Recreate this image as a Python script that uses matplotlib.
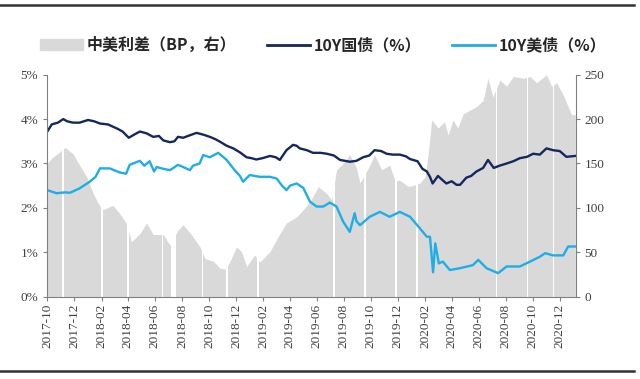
import pandas as pd
import matplotlib
matplotlib.use("Agg")
import matplotlib.pyplot as plt
import matplotlib.dates as mdates
from matplotlib.lines import Line2D
from matplotlib.patches import Patch

# 10Y China government bond yield (%)
cn_dates = ["2017-10-01", "2017-10-11", "2017-10-25", "2017-11-06", "2017-11-15", "2017-11-28",
            "2017-12-13", "2018-01-01", "2018-01-15", "2018-01-28", "2018-02-15", "2018-03-09",
            "2018-03-20", "2018-04-03", "2018-04-15", "2018-04-28", "2018-05-13", "2018-05-28",
            "2018-06-10", "2018-06-20", "2018-07-05", "2018-07-15", "2018-07-23", "2018-08-04",
            "2018-08-20", "2018-09-03", "2018-09-18", "2018-10-03", "2018-10-15", "2018-10-26",
            "2018-11-10", "2018-11-25", "2018-12-10", "2018-12-25", "2019-01-05", "2019-01-16",
            "2019-01-30", "2019-02-16", "2019-03-01", "2019-03-10", "2019-03-25", "2019-04-09",
            "2019-04-17", "2019-04-24", "2019-05-10", "2019-05-24", "2019-06-10", "2019-06-24",
            "2019-07-10", "2019-07-24", "2019-08-15", "2019-08-30", "2019-09-14", "2019-09-28",
            "2019-10-10", "2019-10-25", "2019-11-06", "2019-11-20", "2019-12-06", "2019-12-20",
            "2019-12-29", "2020-01-15", "2020-01-26", "2020-02-05", "2020-02-12", "2020-02-18",
            "2020-03-01", "2020-03-12", "2020-03-20", "2020-04-01", "2020-04-12", "2020-04-20",
            "2020-05-04", "2020-05-15", "2020-05-27", "2020-06-11", "2020-06-22", "2020-07-05",
            "2020-07-18", "2020-08-03", "2020-08-18", "2020-09-02", "2020-09-18", "2020-10-02",
            "2020-10-17", "2020-11-01", "2020-11-16", "2020-12-01", "2020-12-16", "2021-01-05"]
cn_yield = [3.72, 3.88, 3.92, 4.00, 3.95, 3.92,
            3.92, 3.98, 3.95, 3.90, 3.88, 3.78,
            3.72, 3.58, 3.65, 3.72, 3.68, 3.60,
            3.62, 3.52, 3.48, 3.50, 3.60, 3.58,
            3.64, 3.69, 3.65, 3.60, 3.55, 3.49,
            3.40, 3.34, 3.25, 3.14, 3.12, 3.09,
            3.12, 3.17, 3.14, 3.08, 3.30, 3.42,
            3.40, 3.34, 3.30, 3.24, 3.24, 3.22,
            3.18, 3.08, 3.04, 3.06, 3.14, 3.18,
            3.30, 3.28, 3.22, 3.20, 3.20, 3.16,
            3.10, 3.05, 2.88, 2.82, 2.70, 2.55,
            2.72, 2.62, 2.55, 2.60, 2.52, 2.52,
            2.68, 2.72, 2.82, 2.90, 3.08, 2.90,
            2.95, 3.00, 3.05, 3.12, 3.15, 3.22,
            3.20, 3.34, 3.30, 3.28, 3.15, 3.17]

# 10Y US Treasury yield (%)
us_dates = ["2017-10-01", "2017-10-22", "2017-11-10", "2017-11-21", "2017-12-13", "2018-01-05",
            "2018-01-18", "2018-01-28", "2018-02-19", "2018-03-13", "2018-03-28", "2018-04-05",
            "2018-04-28", "2018-05-08", "2018-05-20", "2018-05-30", "2018-06-05", "2018-06-20",
            "2018-07-05", "2018-07-23", "2018-08-04", "2018-08-19", "2018-08-26", "2018-09-10",
            "2018-09-18", "2018-10-03", "2018-10-22", "2018-11-10", "2018-11-28", "2018-12-10",
            "2018-12-17", "2019-01-01", "2019-01-24", "2019-02-16", "2019-03-03", "2019-03-15",
            "2019-03-25", "2019-04-02", "2019-04-17", "2019-05-02", "2019-05-17", "2019-06-01",
            "2019-06-16", "2019-07-01", "2019-07-16", "2019-07-31", "2019-08-15", "2019-08-26",
            "2019-08-30", "2019-09-07", "2019-09-29", "2019-10-22", "2019-11-13", "2019-12-06",
            "2019-12-29", "2020-01-16", "2020-02-05", "2020-02-12", "2020-02-16", "2020-02-19",
            "2020-02-24", "2020-03-03", "2020-03-12", "2020-03-28", "2020-04-19", "2020-05-19",
            "2020-05-31", "2020-06-19", "2020-07-15", "2020-08-03", "2020-09-02", "2020-09-25",
            "2020-10-17", "2020-10-29", "2020-11-16", "2020-12-09", "2020-12-20", "2021-01-05"]
us_yield = [2.40, 2.33, 2.35, 2.34, 2.44, 2.59,
            2.70, 2.89, 2.89, 2.80, 2.77, 2.97,
            3.06, 2.95, 3.05, 2.82, 2.92, 2.88,
            2.85, 2.97, 2.92, 2.85, 2.95, 3.00,
            3.19, 3.14, 3.24, 3.08, 2.85, 2.72,
            2.59, 2.74, 2.70, 2.70, 2.66, 2.50,
            2.40, 2.50, 2.55, 2.45, 2.14, 2.03,
            2.03, 2.12, 2.03, 1.69, 1.46, 1.88,
            1.70, 1.61, 1.80, 1.91, 1.80, 1.91,
            1.80, 1.59, 1.35, 1.35, 0.90, 0.55,
            1.20, 0.75, 0.79, 0.60, 0.64, 0.71,
            0.83, 0.64, 0.53, 0.68, 0.68, 0.79,
            0.90, 0.98, 0.93, 0.93, 1.13, 1.13]

# China-US spread (BP, right axis)
sp_dates = ["2017-10-01", "2017-10-11", "2017-10-29", "2017-11-10", "2017-11-28", "2017-12-13",
            "2017-12-29", "2018-01-13", "2018-01-24", "2018-02-04", "2018-02-26", "2018-03-13",
            "2018-03-28", "2018-04-09", "2018-04-28", "2018-05-13", "2018-05-28", "2018-06-20",
            "2018-07-05", "2018-07-23", "2018-08-04", "2018-08-19", "2018-09-11", "2018-09-22",
            "2018-10-11", "2018-10-26", "2018-11-06", "2018-11-17", "2018-12-02", "2018-12-13",
            "2018-12-25", "2019-01-12", "2019-01-24", "2019-02-16", "2019-03-10", "2019-03-25",
            "2019-04-17", "2019-05-02", "2019-05-17", "2019-06-05", "2019-06-24", "2019-07-05",
            "2019-07-16", "2019-07-31", "2019-08-15", "2019-08-30", "2019-09-07", "2019-09-26",
            "2019-10-10", "2019-10-26", "2019-11-13", "2019-11-25", "2019-12-06", "2019-12-25",
            "2020-01-09", "2020-01-20", "2020-02-01", "2020-02-08", "2020-02-16", "2020-03-01",
            "2020-03-16", "2020-03-24", "2020-04-04", "2020-04-15", "2020-04-27", "2020-05-12",
            "2020-05-27", "2020-06-11", "2020-06-22", "2020-07-03", "2020-07-19", "2020-08-03",
            "2020-08-18", "2020-09-10", "2020-09-25", "2020-10-10", "2020-11-01", "2020-11-13",
            "2020-11-24", "2020-12-09", "2020-12-20", "2020-12-28", "2021-01-05"]
spread = [150, 156, 163, 168, 161, 148,
          135, 116, 105, 98, 103, 94,
          83, 62, 71, 83, 70, 70,
          58, 75, 81, 72, 56, 43,
          40, 32, 31, 39, 56, 51,
          34, 47, 39, 51, 71, 83,
          90, 98, 107, 124, 116, 109,
          143, 150, 160, 145, 128, 145,
          160, 143, 148, 131, 131, 124,
          126, 128, 135, 161, 199, 190,
          197, 182, 199, 190, 206, 210,
          214, 221, 246, 225, 244, 237,
          248, 246, 248, 241, 250, 237,
          241, 227, 214, 205, 205]

# breaks in the spread series (white gaps)
gap_start = ["2017-11-04", "2018-01-31", "2018-03-31", "2018-06-16", "2018-07-07", "2018-09-15",
             "2018-11-09", "2019-01-18", "2019-07-09", "2019-09-17", "2019-11-26", "2020-01-12",
             "2020-07-09", "2020-09-17", "2020-11-15"]
gap_end = ["2017-11-07", "2018-02-03", "2018-04-03", "2018-06-19", "2018-07-19", "2018-09-18",
           "2018-11-12", "2019-01-21", "2019-07-12", "2019-09-20", "2019-11-29", "2020-01-15",
           "2020-07-12", "2020-09-20", "2020-11-18"]

legend_labels = ["中美利差（BP，右）", "10Y国债（%）", "10Y美债（%）"]

navy = "#15275c"
sky = "#1eaee6"
grey = "#d9d9d9"
txt = "#404040"

plt.rcParams["font.family"] = ["Liberation Serif", "DejaVu Serif"]

fig = plt.figure(figsize=(6.4, 3.79), dpi=100)
ax = fig.add_axes([0.0739, 0.2172, 0.8256, 0.5857])
ax2 = ax.twinx()

ax2.fill_between(pd.to_datetime(sp_dates), spread, 0, color=grey, lw=0)
for s, e in zip(gap_start, gap_end):
    ax2.axvspan(pd.Timestamp(s), pd.Timestamp(e), color="white", lw=0)

ax.plot(pd.to_datetime(cn_dates), cn_yield, color=navy, lw=1.7)
ax.plot(pd.to_datetime(us_dates), us_yield, color=sky, lw=1.7)

ax.set_zorder(ax2.get_zorder() + 1)
ax.patch.set_visible(False)

xmin, xmax = pd.Timestamp("2017-10-01"), pd.Timestamp("2021-01-06")
ax.set_xlim(xmin, xmax)
ax.set_ylim(0, 5)
ax2.set_ylim(0, 250)

ax.set_yticks([0, 1, 2, 3, 4, 5])
ax.set_yticklabels(["%d%%" % v for v in range(6)])
ax2.set_yticks([0, 50, 100, 150, 200, 250])

ticks = pd.date_range("2017-10-01", "2020-12-01", freq="2MS")
ax.set_xticks(ticks)
ax.xaxis.set_major_formatter(mdates.DateFormatter("%Y-%m"))
for lab in ax.get_xticklabels():
    lab.set_rotation(90)

for a in (ax, ax2):
    a.spines["top"].set_visible(False)
    for sp in ("left", "right", "bottom"):
        a.spines[sp].set_color("#808080")
        a.spines[sp].set_linewidth(0.8)
    a.tick_params(colors="#808080", labelcolor=txt, labelsize=9.5, length=3, width=0.8)
ax.spines["right"].set_visible(False)
ax2.spines["left"].set_visible(False)
ax2.spines["bottom"].set_visible(False)
ax.tick_params(axis="x", labelsize=9.5, pad=2)

handles = [Patch(color=grey), Line2D([], [], color=navy, lw=2), Line2D([], [], color=sky, lw=2)]
fig.legend(handles, legend_labels, loc="center", bbox_to_anchor=(0.505, 0.881), ncol=3,
           frameon=False, handlelength=2.7, handletextpad=0.25, columnspacing=1.9,
           prop={"family": ["Noto Sans CJK SC", "DejaVu Sans"], "weight": "bold", "size": 11.5},
           labelcolor="#262626")

fig.add_artist(Line2D([0.0, 0.99], [0.987, 0.987], color="#333333", lw=1.8))
fig.add_artist(Line2D([0.0, 0.99], [0.021, 0.021], color="#333333", lw=1.8))

fig.savefig("out.png", dpi=100)
